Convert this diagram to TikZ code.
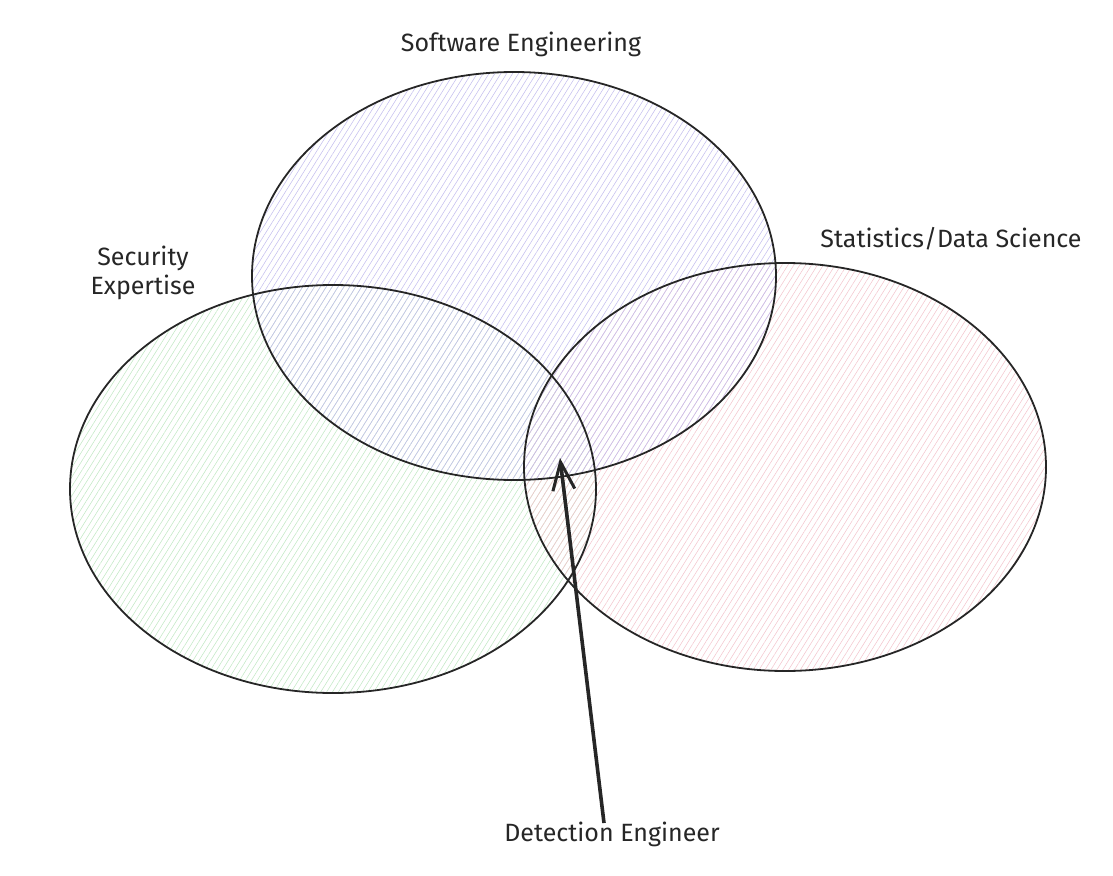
\documentclass[tikz,border=0pt]{standalone}
\usepackage{fontspec}
\setmainfont{Fira Sans}
\usetikzlibrary{patterns.meta,arrows.meta}
\definecolor{purpleline}{HTML}{C4BEEE}
\definecolor{greenline}{HTML}{C2E8C4}
\definecolor{pinkline}{HTML}{F3C6CE}
\tikzset{
  setfill/.style={pattern={Lines[angle=58,distance=5pt,line width=0.55pt]},pattern color=#1},
  setline/.style={draw=black!85,line width=1.8pt},
  lbl/.style={font=\fontsize{25}{29}\selectfont,text=black!85,align=center,inner sep=0pt},
  pointer/.style={draw=black!85,line width=3.6pt,-{Straight Barb[length=28pt,width=22pt,line width=3pt]}}
}
\begin{document}
\begin{tikzpicture}[x=1pt,y=-1pt]
\useasboundingbox (0,0) rectangle (1113,875);
% fills
\path[setfill=greenline] (333,489) ellipse [x radius=263,y radius=204];
\path[setfill=pinkline] (785,467) ellipse [x radius=261,y radius=204];
\path[setfill=purpleline] (514,276) ellipse [x radius=262,y radius=204];
% outlines
\draw[setline] (333,489) ellipse [x radius=263,y radius=204];
\draw[setline] (785,467) ellipse [x radius=261,y radius=204];
\draw[setline] (514,276) ellipse [x radius=262,y radius=204];
% labels
\node[lbl] (se) at (521,44) {Software Engineering};
\node[lbl] (sd) at (951,239) {Statistics/Data Science};
\node[lbl] (sec) at (143,273) {Security\\Expertise};
\node[lbl] (de) at (612,834) {Detection Engineer};
\coordinate (tip) at (560,458);
\coordinate (start) at (604,823);
\draw[pointer] (start) -- (tip);
\end{tikzpicture}
\end{document}
